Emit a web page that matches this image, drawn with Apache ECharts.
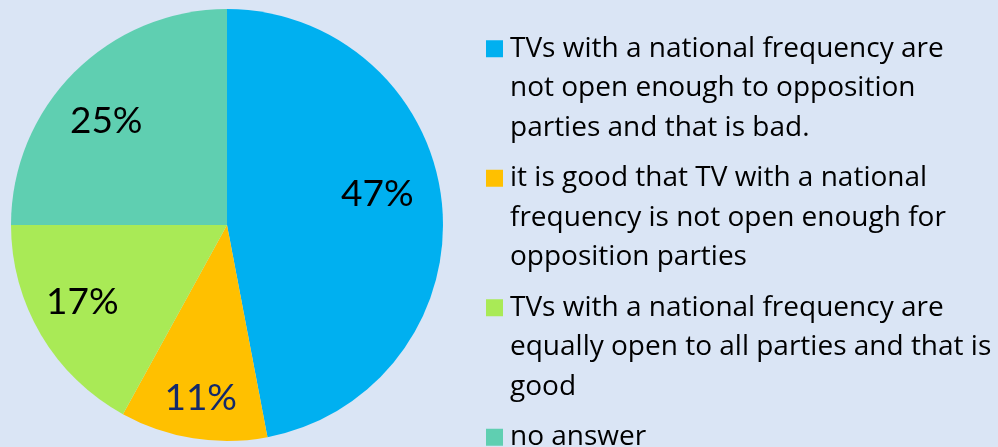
<!DOCTYPE html>
<html>
<head>
<meta charset="utf-8">
<script src="https://cdn.jsdelivr.net/npm/echarts@6/dist/echarts.min.js"></script>
<style>
  html, body { margin: 0; padding: 0; background: #DAE5F5; }
  #chart { width: 998px; height: 447px; }
</style>
</head>
<body>
<div id="chart"></div>
<script>
// Survey answers (share of respondents, %)
const categories = [
  'TVs with a national frequency are\nnot open enough to opposition\nparties and that is bad.',
  'it is good that TV with a national\nfrequency is not open enough for\nopposition parties',
  'TVs with a national frequency are\nequally open to all parties and that is\ngood',
  'no answer'
];
const values = [47, 11, 17, 25];
const colors = ['#00B0F0', '#FFC000', '#A9EA56', '#5FCFB1'];
const labelColors = ['#000000', '#13296B', '#000000', '#000000'];

// small per-slice shifts of the percentage labels (px)
const labelNudge = [[-17, -15], [0, 7], [0, -8], [-2, 15]];

const pieData = categories.map((name, i) => ({
  name: name,
  value: values[i],
  itemStyle: { color: colors[i] },
  label: { color: labelColors[i] }
}));

// Pad every legend entry to the same symmetric line count so the
// marker lines up with the first line of text.
const maxLines = Math.max(...categories.map(c => c.split('\n').length));
function legendText(name) {
  const n = name.split('\n').length;
  return '\n'.repeat(maxLines - 1) + name + '\n'.repeat(maxLines - n);
}

const chart = echarts.init(document.getElementById('chart'), null, { renderer: 'canvas' });
chart.setOption({
  backgroundColor: '#DAE5F5',
  animation: false,
  legend: {
    orient: 'vertical',
    left: 486,
    top: -50,
    height: 2000,
    padding: 0,
    itemWidth: 17,
    itemHeight: 17,
    itemGap: -68,
    icon: 'rect',
    selectedMode: false,
    data: categories,
    formatter: legendText,
    textStyle: {
      fontFamily: 'Open Sans',
      fontSize: 28,
      lineHeight: 39.5,
      color: '#000000',
      padding: [0, 0, 0, 2]
    }
  },
  series: [
    {
      type: 'pie',
      center: [227, 225],
      radius: 216,
      startAngle: 90,
      clockwise: true,
      silent: true,
      label: { show: false },
      labelLine: { show: false },
      data: pieData
    },
    {
      // label ring: places the percentages away from the pie centre
      type: 'pie',
      center: [227, 225],
      radius: [140, 190],
      startAngle: 90,
      clockwise: true,
      silent: true,
      itemStyle: { color: 'rgba(0,0,0,0)' },
      label: {
        show: true,
        position: 'inside',
        formatter: '{c}%',
        fontFamily: 'Lato',
        fontSize: 37
      },
      labelLine: { show: false },
      labelLayout: function (params) {
        const n = labelNudge[params.dataIndex];
        return { dx: n[0], dy: n[1] };
      },
      data: pieData.map(d => ({ name: d.name, value: d.value, label: d.label, itemStyle: { color: 'rgba(0,0,0,0)' } }))
    }
  ]
});
</script>
</body>
</html>
